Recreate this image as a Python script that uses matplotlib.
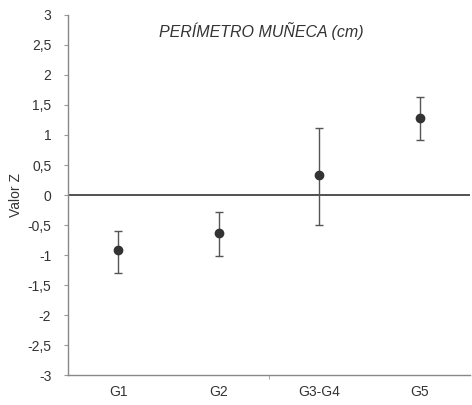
import matplotlib.pyplot as plt
import matplotlib.ticker as ticker

grupos = ["G1", "G2", "G3-G4", "G5"]
media = [-0.92, -0.63, 0.33, 1.28]
limite_sup = [-0.60, -0.28, 1.12, 1.63]
limite_inf = [-1.30, -1.02, -0.50, 0.92]

plt.rcParams['font.family'] = ['Liberation Sans', 'DejaVu Sans']

fig = plt.figure(figsize=(4.72, 4.05), dpi=100)
ax = fig.add_axes([0.144, 0.074, 0.852, 0.889])

x = list(range(len(grupos)))
err_inf = [m - b for m, b in zip(media, limite_inf)]
err_sup = [t - m for m, t in zip(media, limite_sup)]

ax.axhline(0, color="#333333", linewidth=1.2, zorder=1)
ax.errorbar(x, media, yerr=[err_inf, err_sup], fmt="o", color="#333333",
            ecolor="#555555", elinewidth=1, capsize=3, capthick=1,
            markersize=6, zorder=3)

ax.set_xlim(-0.5, 3.5)
ax.set_ylim(-3, 3)
ax.set_xticks(x)
ax.set_xticklabels(grupos, fontsize=10, color="#333333")
ax.xaxis.set_minor_locator(ticker.FixedLocator([1.5]))
ax.tick_params(axis="x", which="major", length=0, pad=7)
ax.tick_params(axis="x", which="minor", length=3, direction="out", color="#999999")

ax.set_yticks([-3, -2.5, -2, -1.5, -1, -0.5, 0, 0.5, 1, 1.5, 2, 2.5, 3])
ax.yaxis.set_major_formatter(ticker.FuncFormatter(
    lambda v, p: ("%g" % v).replace(".", ",")))
ax.tick_params(axis="y", labelsize=10, labelcolor="#333333", length=3,
               direction="out", color="#999999", pad=9)

ax.set_ylabel("Valor Z", fontsize=10, color="#333333", labelpad=3)

for lado in ["top", "right"]:
    ax.spines[lado].set_visible(False)
for lado in ["left", "bottom"]:
    ax.spines[lado].set_color("#888888")
    ax.spines[lado].set_linewidth(1)

ax.text(0.48, 0.955, "PERÍMETRO MUÑECA (cm)", transform=ax.transAxes,
        fontsize=11.5, fontstyle="italic", color="#333333", ha="center", va="center")

fig.savefig("out.png", dpi=100)
